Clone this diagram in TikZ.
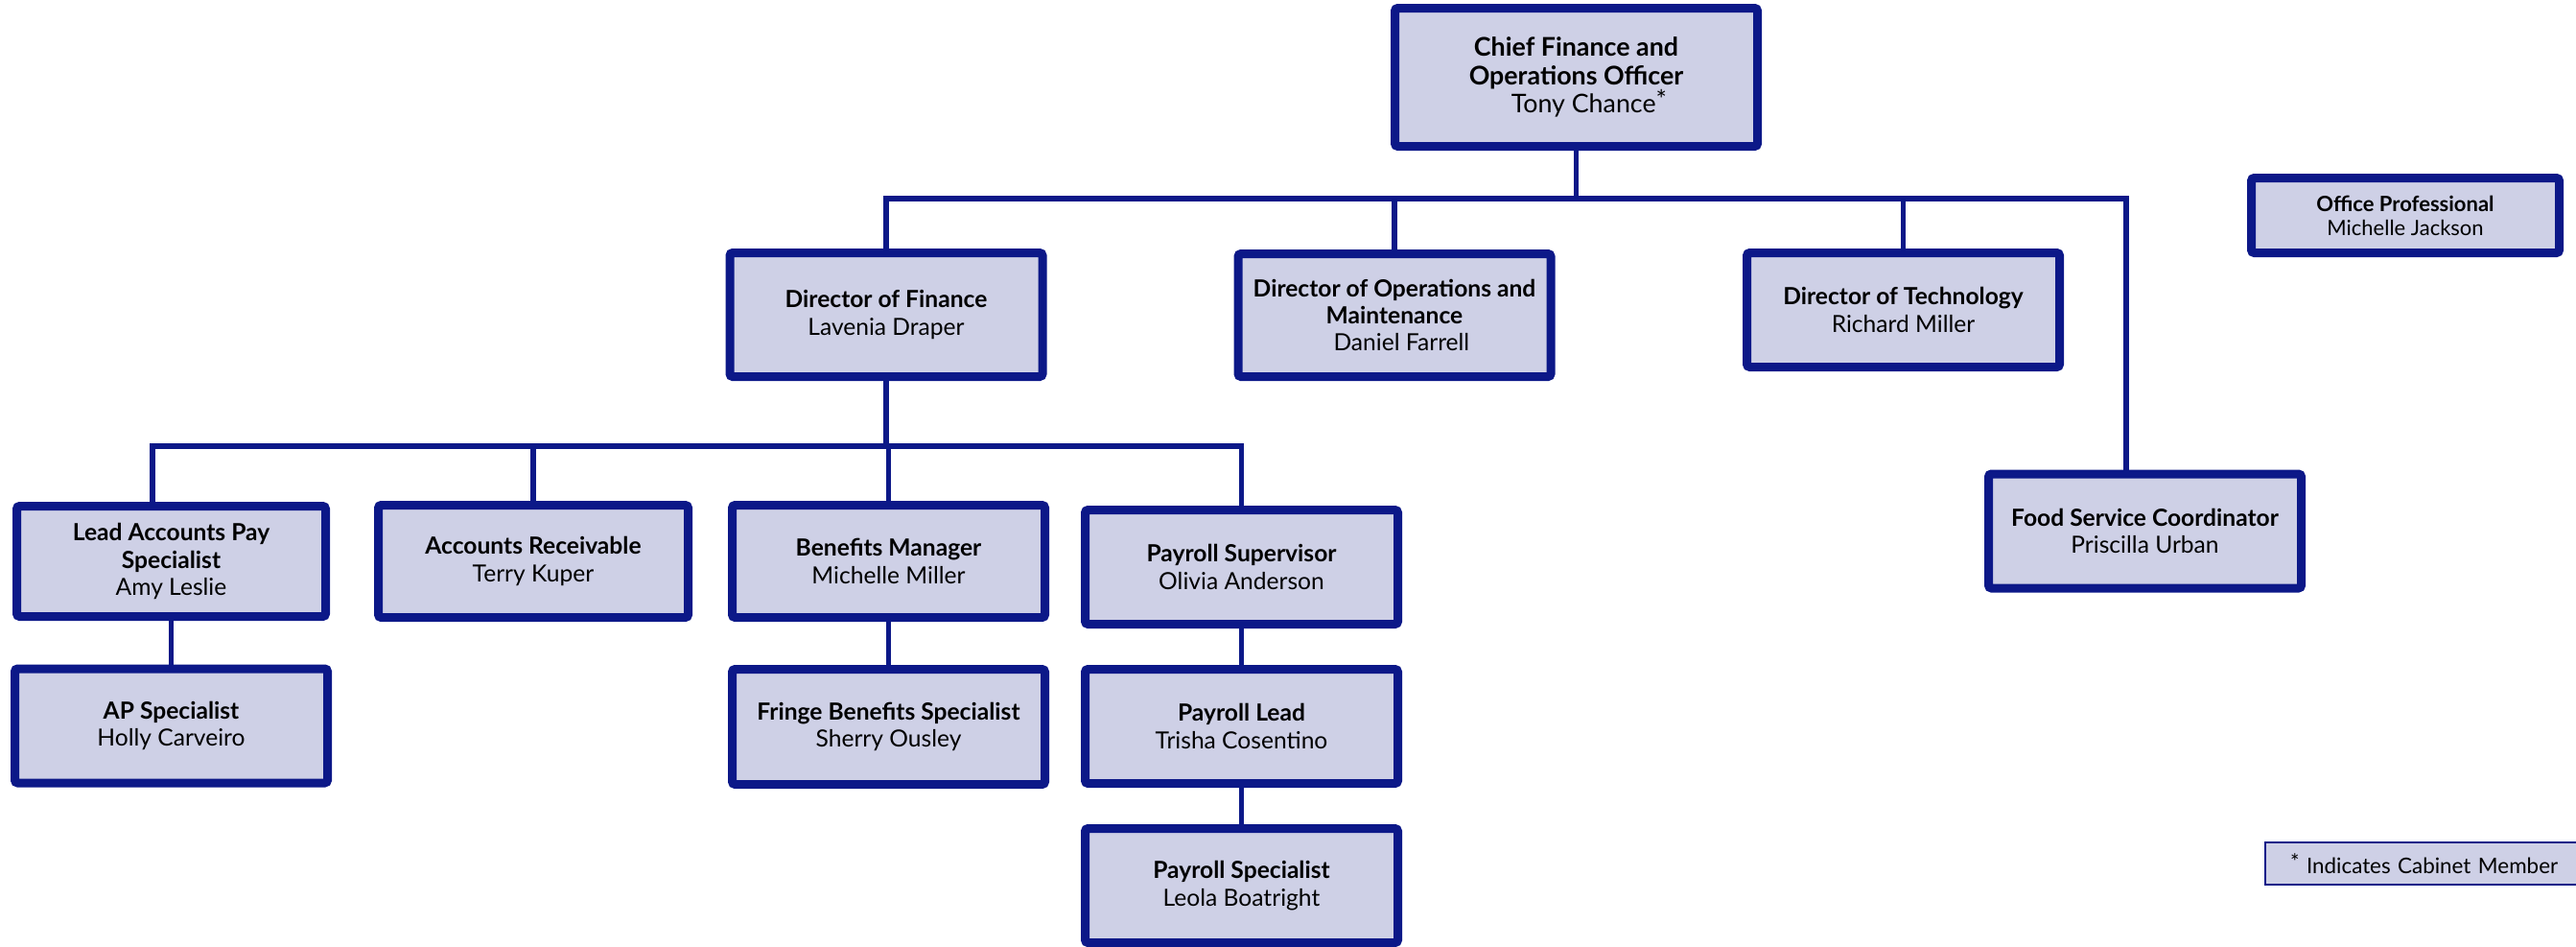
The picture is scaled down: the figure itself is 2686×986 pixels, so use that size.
\documentclass[tikz,border=0pt]{standalone}
\usepackage{fontspec}
\setmainfont{Lato}
\definecolor{navy}{RGB}{12,24,136}
\definecolor{lavender}{RGB}{206,208,230}
\begin{document}
\begin{tikzpicture}[x=0.5pt, y=-0.5pt,
  box/.style={draw=navy, fill=lavender, line width=4.5pt, rounded corners=1.5pt,
    minimum width=163pt, minimum height=59.5pt, align=center,
    font=\fontsize{12.3}{14.2}\selectfont},
  link/.style={draw=navy, line width=2.6pt},
  legendbox/.style={draw=navy, fill=lavender, line width=1pt, anchor=west,
    align=left, text width=146pt, inner xsep=13pt, minimum height=22pt,
    font=\fontsize{11.2}{12}\selectfont}]
 \useasboundingbox (0,0) rectangle (2686,986);
 \clip (0,0) rectangle (2686,986);
 % top
 \node[box, minimum width=189pt, minimum height=72pt, font=\fontsize{13.4}{14.6}\selectfont] (cfo) at (1643.5,80.5)
   {\textbf{Chief Finance and}\\\textbf{Operations Officer}\\\hspace*{1em}Tony Chance\raisebox{0.3ex}{*}};
 \node[box, minimum width=160.5pt, minimum height=39pt, font=\fontsize{11}{12.5}\selectfont] (offp) at (2508,224.5)
   {\textbf{Office Professional}\\Michelle Jackson};
 % directors
 \node[box, minimum height=64.5pt] (dfin) at (924,328) {\textbf{Director of Finance}\\Lavenia Draper};
 \node[box, minimum height=64pt] (dops) at (1454,328.5)
   {\textbf{Director of Operations and}\\\textbf{Maintenance}\\\hspace*{0.6em}Daniel Farrell};
 \node[box] (dtech) at (1984.5,323) {\textbf{Director of Technology}\\Richard Miller};
 \node[box] (food) at (2236.5,553.5) {\textbf{Food Service Coordinator}\\Priscilla Urban};
 % finance staff
 \node[box, minimum width=161pt, minimum height=57.5pt] (leadap) at (178.5,585)
   {\textbf{Lead Accounts Pay}\\\textbf{Specialist}\\Amy Leslie};
 \node[box, minimum width=161.5pt, minimum height=58.5pt] (arec) at (556,585) {\textbf{Accounts Receivable}\\Terry Kuper};
 \node[box, minimum height=58.5pt] (benef) at (926.5,585) {\textbf{Benefits Manager}\\Michelle Miller};
 \node[box] (paysup) at (1294.5,591) {\textbf{Payroll Supervisor}\\Olivia Anderson};
 \node[box] (apspec) at (178.5,756.5) {\textbf{AP Specialist}\\Holly Carveiro};
 \node[box, minimum height=60pt] (fringe) at (926.5,757.5) {\textbf{Fringe Benefits Specialist}\\Sherry Ousley};
 \node[box] (paylead) at (1294.5,757) {\textbf{Payroll Lead}\\Trisha Cosentino};
 \node[box] (payspec) at (1294.5,923) {\textbf{Payroll Specialist}\\Leola Boatright};
 \node[legendbox] (legend) at (2361,900) {\raisebox{0.3ex}{*} Indicates Cabinet Member};
 % connectors
 \coordinate (bar1) at (0,207);
 \coordinate (bar2) at (0,465);
 \coordinate (foodtop) at ([xshift=-9.75pt]food.north);
 \coordinate (leadtop) at ([xshift=-9.75pt]leadap.north);
 \draw[link] (cfo.south) -- (cfo.south |- bar1);
 \draw[link] (dfin.north) -- (dfin.north |- bar1) -- (foodtop |- bar1) -- (foodtop);
 \draw[link] (dops.north) -- (dops.north |- bar1);
 \draw[link] (dtech.north) -- (dtech.north |- bar1);
 \draw[link] (dfin.south) -- (dfin.south |- bar2);
 \draw[link] (leadtop) -- (leadtop |- bar2) -- (paysup.north |- bar2) -- (paysup.north);
 \draw[link] (arec.north) -- (arec.north |- bar2);
 \draw[link] (benef.north) -- (benef.north |- bar2);
 \draw[link] (leadap.south) -- (apspec.north);
 \draw[link] (benef.south) -- (fringe.north);
 \draw[link] (paysup.south) -- (paylead.north);
 \draw[link] (paylead.south) -- (payspec.north);
\end{tikzpicture}
\end{document}
